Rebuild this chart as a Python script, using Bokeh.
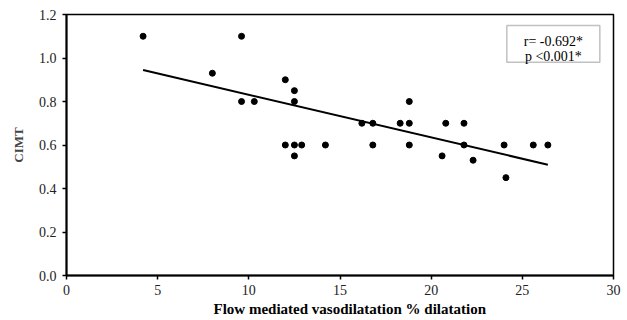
from bokeh.plotting import figure
from bokeh.models import Range1d, FixedTicker, PrintfTickFormatter, Label, BoxAnnotation, ColumnDataSource, Title
from bokeh.embed import file_html
from bokeh.resources import INLINE
import numpy as np

# Data
fmd = [4.2, 9.6, 8.0, 9.6, 10.3, 12.0, 12.5, 12.5, 12.0, 12.5, 12.9, 14.2, 12.5,
       16.2, 16.8, 18.3, 18.8, 18.8, 20.8, 21.8, 16.8, 18.8, 21.8, 24.0, 25.6, 26.4,
       20.6, 22.3, 24.1]
cimt = [1.10, 1.10, 0.93, 0.80, 0.80, 0.90, 0.85, 0.80, 0.60, 0.60, 0.60, 0.60, 0.55,
        0.70, 0.70, 0.70, 0.70, 0.80, 0.70, 0.70, 0.60, 0.60, 0.60, 0.60, 0.60, 0.60,
        0.55, 0.53, 0.45]
fit_intercept = 1.027
fit_slope = -0.0196
x_ticks = [0, 5, 10, 15, 20, 25, 30]
y_ticks = [0.0, 0.2, 0.4, 0.6, 0.8, 1.0, 1.2]
r_text = "r= -0.692*"
p_text = "p <0.001*"

FONT = "Liberation Serif"

p = figure(width=627, height=320, output_backend="svg", toolbar_location=None,
           x_range=Range1d(0, 30), y_range=Range1d(0, 1.2),
           min_border_left=66, min_border_right=14, min_border_top=14, min_border_bottom=45)

p.xgrid.visible = False
p.ygrid.visible = False
p.outline_line_color = "black"
p.outline_line_width = 1.5
p.background_fill_color = "white"
p.border_fill_color = "white"

for ax in (p.xaxis[0], p.yaxis[0]):
    ax.axis_line_color = "black"
    ax.axis_line_width = 2
    ax.major_tick_line_color = "black"
    ax.major_tick_line_width = 1.5
    ax.major_tick_out = 4
    ax.major_tick_in = 0
    ax.minor_tick_line_color = None
    ax.major_label_text_font = FONT
    ax.major_label_text_font_size = "14px"
    ax.major_label_text_color = "#222222"

p.xaxis.ticker = FixedTicker(ticks=x_ticks)
p.yaxis.ticker = FixedTicker(ticks=y_ticks)
p.yaxis.formatter = PrintfTickFormatter(format="%.1f")
p.xaxis.major_label_standoff = 5
p.yaxis.major_label_standoff = 6

p.yaxis.axis_label = "CIMT"
p.yaxis.axis_label_text_font = FONT
p.yaxis.axis_label_text_font_style = "bold"
p.yaxis.axis_label_text_font_size = "13px"
p.yaxis.axis_label_standoff = 10

# fitted line
xs = np.array([min(fmd), max(fmd)])
ys = fit_intercept + fit_slope * xs
p.line(xs, ys, line_color="black", line_width=2)

src = ColumnDataSource(dict(x=fmd, y=cimt))
p.scatter("x", "y", source=src, size=6, color="black")

# annotation box
p.add_layout(BoxAnnotation(left=24.15, right=29.25, bottom=0.98, top=1.15,
                           fill_color="white", fill_alpha=1.0,
                           line_color="#333333", line_width=1.5, level="overlay"))
p.add_layout(Label(x=26.7, y=1.076, text=r_text, text_align="center", text_baseline="alphabetic",
                   text_font=FONT, text_font_size="14px", text_color="black", level="overlay"))
p.add_layout(Label(x=26.7, y=1.007, text=p_text, text_align="center", text_baseline="alphabetic",
                   text_font=FONT, text_font_size="14px", text_color="black", level="overlay"))

# x axis title (slightly right of centre, as in reference)
p.add_layout(Title(text="Flow mediated vasodilatation % dilatation", align="left", offset=147,
                   text_font=FONT, text_font_style="bold", text_font_size="15px",
                   text_color="black", standoff=2), "below")

open("out.html", "w").write(file_html(p, INLINE))
